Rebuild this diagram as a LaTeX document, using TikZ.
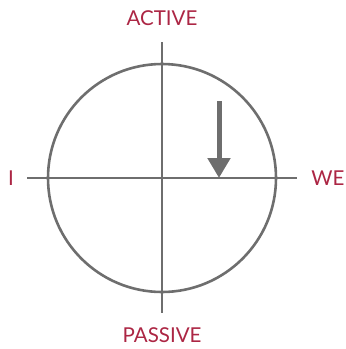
\documentclass[tikz,border=0pt]{standalone}
\usepackage{fontspec}
\setmainfont{Lato}
\usetikzlibrary{arrows.meta}
\definecolor{crim}{RGB}{172,38,68}
\definecolor{axisgray}{RGB}{110,110,110}
\tikzset{
  lbl/.style={text=crim, font=\fontsize{20.5}{23}\selectfont, inner sep=0pt},
  axis/.style={draw=axisgray, line width=2.6pt},
}
\begin{document}
\begin{tikzpicture}[x=1pt,y=-1pt]
\useasboundingbox (0,0) rectangle (346,349);
\coordinate (c) at (162,178);
\coordinate (l) at (27,178);
\coordinate (r) at (297,178);
\coordinate (t) at (162,42);
\coordinate (b) at (162,313);
\coordinate (as) at (219,101);
\coordinate (ae) at (219,178);
\draw[axis] (c) circle[radius=114];
\draw[axis] (l) -- (r);
\draw[axis] (t) -- (b);
\draw[draw=axisgray, line width=5pt, -{Triangle[length=20pt,width=22pt]}] (as) -- (ae);
\node[lbl] (active) at (162,18) {ACTIVE};
\node[lbl] (passive) at (162,335) {PASSIVE};
\node[lbl] (i) at (11,178) {I};
\node[lbl] (we) at (328,178) {WE};
\end{tikzpicture}
\end{document}
